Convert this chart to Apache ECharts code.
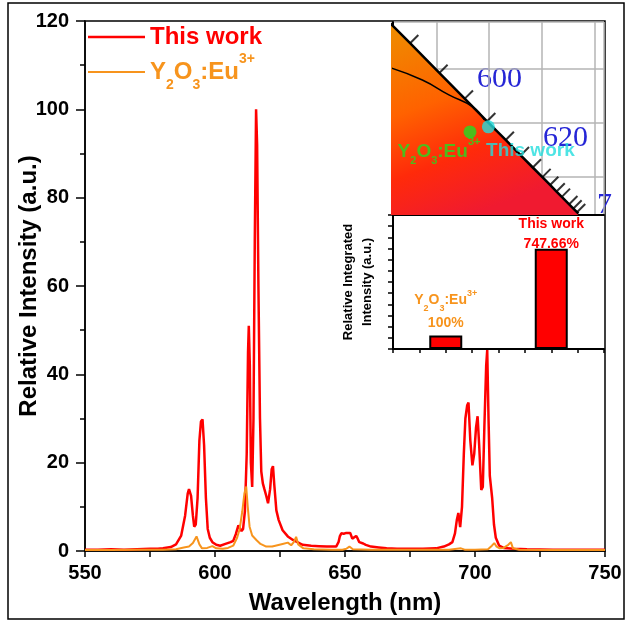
<!DOCTYPE html>
<html>
<head>
<meta charset="utf-8">
<script src="https://cdn.jsdelivr.net/npm/echarts@6/dist/echarts.min.js"></script>
<style>
html, body { margin: 0; padding: 0; background: #fff; }
#chart { width: 628px; height: 622px; }
</style>
</head>
<body>
<div id="chart"></div>
<script>
// emission spectra: [wavelength (nm), relative intensity]
var thisWork = [
  [550,0.3],[555,0.3],[560,0.4],[565,0.3],[570,0.4],[575,0.5],[578,0.5],[580,0.6],[583,0.9],[585,1.5],
  [587,3.5],[588.5,8],[589.5,13],[590,14],[590.8,12.5],[591.5,8],[592,5.5],[592.6,6],[593.3,12],[594,25],
  [594.6,29.3],[595.2,29.8],[595.8,24],[596.5,12],[597.2,5],[598,3],[599,2],[600.5,1.4],[602,1.2],[604,1.6],
  [606,2],[607,2.3],[608,3.8],[609,5.8],[609.6,6.2],[610.2,4.5],[610.8,5],[611.5,9],[612.2,22],[612.7,45],
  [613,51],[613.4,42],[613.8,20],[614.3,14.5],[614.8,30],[615.3,70],[615.8,100],[616.2,92],[616.7,60],[617.3,30],
  [617.8,18],[618.4,15.3],[619,14],[619.7,12.5],[620.4,10.8],[621.2,14],[621.8,18.5],[622.3,19.2],[622.8,15],[623.6,9.2],
  [624.5,7],[626,4.7],[628,3.3],[630,2.5],[633.7,1.4],[637,1.2],[640,1.1],[643,1],[646.6,1],[647.5,2],
  [648,3.3],[648.6,4],[649.5,3.9],[650.5,4.1],[651,3.8],[652,4.1],[652.8,2.8],[653.5,2.5],[654.3,3.4],[654.8,2.9],
  [655.5,2],[657,1.7],[658,1.4],[660,1],[663,0.8],[666,0.6],[670,0.5],[675,0.5],[680,0.5],[685,0.6],
  [688,1],[690,1.5],[691.3,2],[692.3,4],[693,7],[693.6,8.6],[694.3,5.4],[695,10],[695.7,22],[696.3,30],
  [697,33],[697.5,33.6],[698.2,25],[699,19.4],[699.7,22],[700.4,28],[701,30.5],[701.6,24],[702.4,13.8],[703,14.5],
  [703.6,28],[704.3,42],[704.7,45.5],[705.2,30],[705.7,17],[706.1,16.7],[706.6,12],[707.3,6],[708,3],[709.3,1.2],
  [711,0.7],[715,0.5],[720,0.4],[730,0.3],[740,0.3],[750,0.3]
];
var y2o3 = [
  [550,0.2],[560,0.2],[570,0.3],[580,0.3],[585,0.4],[588,0.8],[590,1],[591.5,1.8],[592.9,3.3],[594,1.5],
  [595,0.6],[597,0.7],[599,1.1],[600.5,0.6],[603,0.5],[605,0.7],[607,1.2],[608.5,3],[609.5,5],[610.5,9],
  [611.3,13],[612,14.6],[612.6,10],[613.3,5.5],[614.3,3.5],[615.9,2.5],[617.5,1.6],[619.7,1],[622,1],[624,1.3],
  [626,1.6],[628,1.9],[629.3,1.3],[630.3,2],[631.2,3.2],[632,1.5],[634,0.6],[638,0.4],[645,0.3],[649,0.3],
  [650.5,0.5],[651.7,1],[653,0.4],[660,0.3],[670,0.3],[680,0.3],[690,0.3],[694.6,0.6],[696,0.3],[700,0.3],
  [705,0.4],[706.5,1.2],[707.4,1.8],[708.3,1],[709.5,0.6],[711,0.7],[712.8,1.4],[713.8,2],[714.6,0.6],[717,0.3],
  [730,0.2],[740,0.2],[750,0.2]
];

// CIE 1931 corner: spectral locus 580..700 nm, planckian locus, sample points
var locusXY = [
  [0.5125,0.4866],[0.5448,0.4544],[0.5752,0.4242],[0.6029,0.3965],[0.6270,0.3725],[0.6482,0.3514],
  [0.6658,0.3340],[0.6801,0.3197],[0.6915,0.3083],[0.7006,0.2993],[0.7079,0.2920],[0.7140,0.2859],
  [0.7190,0.2809],[0.7260,0.2740],[0.7300,0.2700],[0.7334,0.2666],[0.7347,0.2653]
];
var planckXY = [[0.556,0.4015],[0.5868,0.3899],[0.612,0.376],[0.6346,0.3648],[0.6455,0.3528]];
var cieNames = ['Y2O3:Eu3+', 'This work'];
var cieXY = [[0.632,0.3415],[0.6494,0.3462]];

// relative integrated intensity (Y2O3:Eu3+ = 1)
var barNames = ['Y2O3:Eu3+', 'This work'];
var barPos = [2, 6];
var barValues = [1, 7.4766];

var RED = '#ff0000', ORANGE = '#f7941d', GREEN = '#22dd22', CYAN = '#22dddd';
var FONT = 'Liberation Sans, Arial, sans-serif';

function y2o3Text(b, s, p) {
  return '{' + b + '|Y}{' + s + '|2}{' + b + '|O}{' + s + '|3}{' + b + '|:Eu}{' + p + '|3+}';
}
function pct(v) { return parseFloat((v * 100).toFixed(2)) + '%'; }

var chart = echarts.init(document.getElementById('chart'));

var blackTick = { color: '#000', width: 1.5 };

chart.setOption({
  backgroundColor: '#fff',
  animation: false,
  textStyle: { fontFamily: FONT },
  legend: [{
    data: ['This work'],
    left: 88, top: 25, padding: 0,
    icon: 'rect', itemWidth: 57, itemHeight: 2.5,
    textStyle: { color: RED, fontSize: 24, fontWeight: 'bold', lineHeight: 24 }
  }, {
    data: ['Y2O3:Eu3+'],
    left: 88, top: 52, padding: 0,
    icon: 'rect', itemWidth: 57, itemHeight: 2,
    formatter: function () { return y2o3Text('b', 's', 'p'); },
    textStyle: {
      color: ORANGE,
      rich: {
        b: { fontSize: 24, fontWeight: 'bold', color: ORANGE, lineHeight: 40 },
        s: { fontSize: 14, fontWeight: 'bold', color: ORANGE, lineHeight: 14, verticalAlign: 'bottom' },
        p: { fontSize: 14, fontWeight: 'bold', color: ORANGE, lineHeight: 14, verticalAlign: 'top' }
      }
    }
  }],
  grid: [
    { left: 85, right: 23, top: 21, bottom: 71, outerBoundsMode: 'none',
      show: true, borderColor: '#000', borderWidth: 1.5 },
    { left: 393, right: 24, top: 22, height: 193, outerBoundsMode: 'none',
      show: true, backgroundColor: '#fff', borderWidth: 0 },
    { left: 393, right: 24, top: 215, height: 134, outerBoundsMode: 'none',
      show: true, backgroundColor: '#fff', borderWidth: 0 }
  ],
  xAxis: [{
    gridIndex: 0, type: 'value', min: 550, max: 750, interval: 50,
    name: 'Wavelength (nm)', nameLocation: 'middle', nameGap: 40, nameMoveOverlap: false,
    nameTextStyle: { color: '#000', fontSize: 24, fontWeight: 'bold' },
    axisLine: { show: true, onZero: false, lineStyle: blackTick },
    axisTick: { show: true, length: 6, lineStyle: blackTick },
    minorTick: { show: true, splitNumber: 2, length: 6, lineStyle: blackTick },
    axisLabel: { color: '#000', fontSize: 20, fontWeight: 'bold', margin: 12 },
    splitLine: { show: false }
  }, {
    gridIndex: 1, type: 'value', min: 0.559, max: 0.759, splitNumber: 4,
    axisLine: { show: true, onZero: false, lineStyle: { color: '#000', width: 2 } },
    axisTick: { show: false }, axisLabel: { show: false },
    splitLine: { show: true, lineStyle: { color: '#b4b4b4', width: 1.5 } }
  }, {
    gridIndex: 2, type: 'value', min: 0, max: 8, interval: 1,
    axisLine: { show: true, onZero: false, lineStyle: { color: '#000', width: 2 } },
    axisTick: { show: true, length: 4, lineStyle: blackTick },
    axisLabel: { show: false }, splitLine: { show: false }
  }],
  yAxis: [{
    gridIndex: 0, type: 'value', min: 0, max: 120, interval: 20,
    name: 'Relative Intensity (a.u.)', nameLocation: 'middle', nameGap: 44, nameMoveOverlap: false,
    nameTextStyle: { color: '#000', fontSize: 24, fontWeight: 'bold' },
    axisLine: { show: true, onZero: false, lineStyle: blackTick },
    axisTick: { show: true, length: 9, lineStyle: blackTick },
    minorTick: { show: true, splitNumber: 2, length: 5, lineStyle: blackTick },
    axisLabel: { color: '#000', fontSize: 20, fontWeight: 'bold', margin: 16 },
    splitLine: { show: false }
  }, {
    gridIndex: 1, type: 'value', min: 0.264, max: 0.444, splitNumber: 4,
    axisLine: { show: true, onZero: false, lineStyle: { color: '#000', width: 2 } },
    axisTick: { show: false }, axisLabel: { show: false },
    splitLine: { show: true, lineStyle: { color: '#b4b4b4', width: 1.5 } }
  }, {
    gridIndex: 2, type: 'value', min: 0, max: 10, interval: 10 / 12,
    name: 'Relative Integrated\nIntensity (a.u.)', nameLocation: 'middle', nameGap: 16, nameMoveOverlap: false,
    nameTextStyle: { color: '#000', fontSize: 13, fontWeight: 'bold', lineHeight: 19 },
    axisLine: { show: true, onZero: false, lineStyle: { color: '#000', width: 2 } },
    axisTick: { show: true, length: 5, lineStyle: blackTick },
    axisLabel: { show: false }, splitLine: { show: false }
  }],
  series: [{
    name: 'This work', type: 'line', xAxisIndex: 0, yAxisIndex: 0,
    data: thisWork, symbol: 'none', color: RED,
    lineStyle: { color: RED, width: 2.5 }
  }, {
    name: 'Y2O3:Eu3+', type: 'line', xAxisIndex: 0, yAxisIndex: 0,
    data: y2o3, symbol: 'none', color: ORANGE,
    lineStyle: { color: ORANGE, width: 2 }
  }, {
    // spectral locus with coloured gamut below it
    name: 'locus', type: 'line', xAxisIndex: 1, yAxisIndex: 1,
    data: locusXY, symbol: 'none', z: 3,
    lineStyle: { color: '#000', width: 2.5 },
    areaStyle: {
      origin: 'start', opacity: 1,
      color: new echarts.graphic.LinearGradient(400, 30, 470, 215, [
        { offset: 0, color: '#ef8a00' },
        { offset: 0.4, color: '#ff6200' },
        { offset: 0.7, color: '#ff2a0a' },
        { offset: 1, color: '#f01a30' }
      ], true)
    }
  }, {
    name: 'locusTicks', type: 'scatter', xAxisIndex: 1, yAxisIndex: 1,
    data: locusXY.slice(2, 16), symbol: 'rect', symbolSize: [2, 12],
    symbolRotate: -45, symbolOffset: [4, -4], z: 4,
    itemStyle: { color: '#000' }
  }, {
    name: 'planck', type: 'line', xAxisIndex: 1, yAxisIndex: 1,
    data: planckXY, symbol: 'none', smooth: true, z: 4,
    lineStyle: { color: '#000', width: 1.5 }
  }, {
    name: 'cie', type: 'scatter', xAxisIndex: 1, yAxisIndex: 1, z: 5,
    symbolSize: 13,
    data: cieXY.map(function (c, i) {
      var green = i === 0;
      return {
        name: cieNames[i], value: c,
        itemStyle: { color: green ? GREEN : CYAN },
        label: {
          show: true, position: 'inside',
          offset: green ? [-31, 20] : [42, 24],
          formatter: green ? y2o3Text('b', 's', 'p') : '{b|This work}',
          rich: {
            b: { fontSize: 19, fontWeight: 'bold', color: green ? GREEN : CYAN, lineHeight: 30 },
            s: { fontSize: 11, fontWeight: 'bold', color: GREEN, lineHeight: 11, verticalAlign: 'bottom' },
            p: { fontSize: 11, fontWeight: 'bold', color: GREEN, lineHeight: 11, verticalAlign: 'top' }
          }
        }
      };
    })
  }, {
    name: 'integrated', type: 'bar', xAxisIndex: 2, yAxisIndex: 2,
    barWidth: 33,
    itemStyle: { color: RED, borderColor: '#000', borderWidth: 2 },
    data: barValues.map(function (v, i) {
      var first = i === 0;
      return {
        name: barNames[i], value: [barPos[i], v],
        label: {
          show: true, position: 'top', distance: first ? 1 : -5,
          formatter: (first ? y2o3Text('b', 's', 'p') : '{b|This work}') + '\n{v|' + pct(v) + '}',
          rich: {
            b: { fontSize: 14, fontWeight: 'bold', color: first ? ORANGE : RED, lineHeight: first ? 24 : 20 },
            s: { fontSize: 9, fontWeight: 'bold', color: ORANGE, lineHeight: 9, verticalAlign: 'bottom' },
            p: { fontSize: 9, fontWeight: 'bold', color: ORANGE, lineHeight: 9, verticalAlign: 'top' },
            v: { fontSize: 14, fontWeight: 'bold', color: first ? ORANGE : RED, lineHeight: first ? 22 : 20 }
          }
        }
      };
    })
  }],
  graphic: [
    { type: 'rect', shape: { x: 8, y: 3, width: 616, height: 616 }, style: { fill: 'none', stroke: '#000', lineWidth: 1.5 } },
    { type: 'text', left: 477, top: 64, style: { text: '600', fill: '#2626d6', font: '30px "Liberation Serif", serif' } },
    { type: 'text', left: 543, top: 123, style: { text: '620', fill: '#2626d6', font: '30px "Liberation Serif", serif' } },
    { type: 'text', left: 401, top: 96, style: { text: '500', fill: '#111', font: '22px "Liberation Serif", serif' } },
    { type: 'text', left: 597, top: 190, style: { text: '7', fill: '#2626d6', font: '30px "Liberation Serif", serif' } }
  ]
});
</script>
</body>
</html>
